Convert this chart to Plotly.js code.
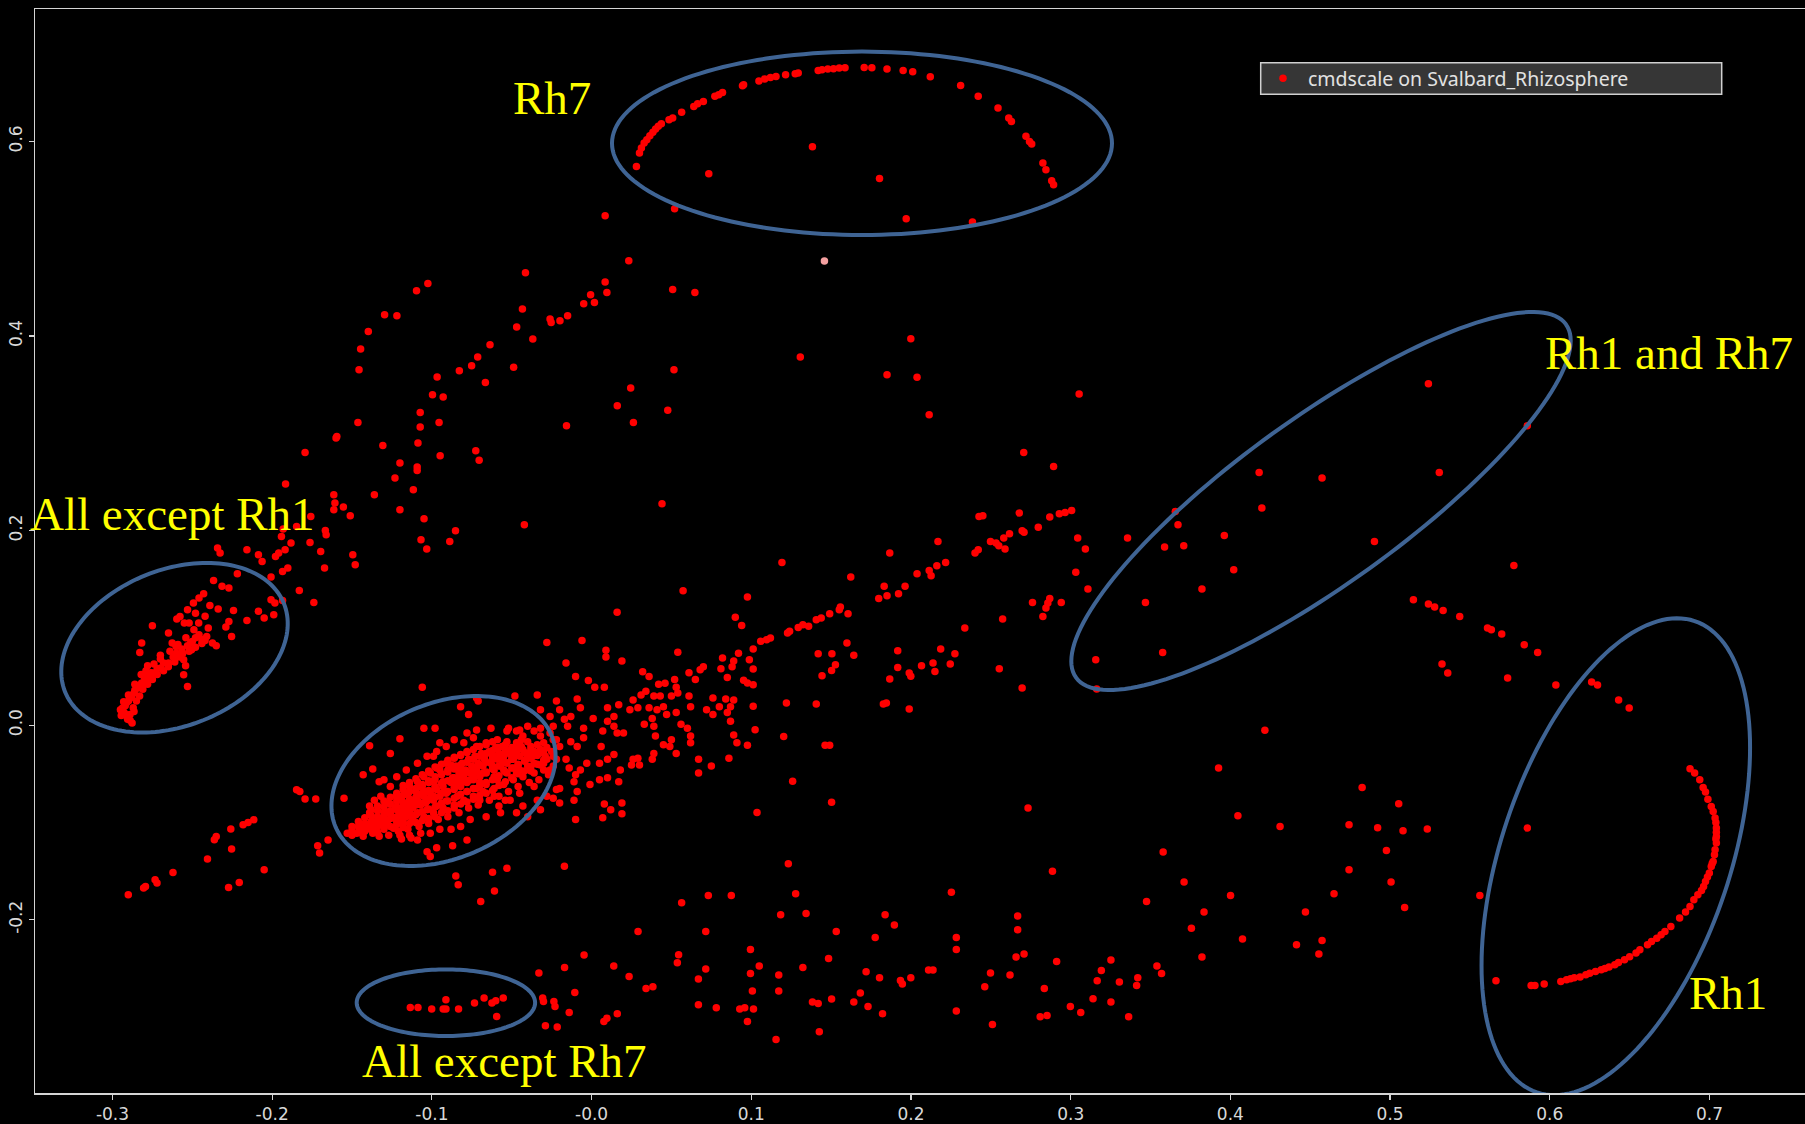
<!DOCTYPE html>
<html><head><meta charset="utf-8">
<script src="https://cdn.plot.ly/plotly-3.0.1.min.js"></script>
<style>html,body{margin:0;padding:0;background:#000;}#chart{width:1805px;height:1124px;}</style>
</head><body><div id="chart"></div>
<script>
const seriesName = 'cmdscale on Svalbard_Rhizosphere';
const xTickVals = [-0.3,-0.2,-0.1,0,0.1,0.2,0.3,0.4,0.5,0.6,0.7];
const xTickText = ['-0.3','-0.2','-0.1','-0.0','0.1','0.2','0.3','0.4','0.5','0.6','0.7'];
const yTickVals = [-0.2,0,0.2,0.4,0.6];
const yTickText = ['-0.2','0.0','0.2','0.4','0.6'];
const groupLabels = ['Rh7','Rh1 and Rh7','All except Rh1','All except Rh7','Rh1'];

// ---- point data (x, y) ----
const rh7Arc = [[0.0281,0.5743],[0.0300,0.5881],[0.0312,0.5932],[0.0329,0.5983],[0.0346,0.6017],[0.0365,0.6059],[0.0384,0.6093],[0.0401,0.6127],[0.0418,0.6155],[0.0437,0.6182],[0.0485,0.6223],[0.0508,0.6240],[0.0564,0.6299],[0.0640,0.6360],[0.0664,0.6388],[0.0700,0.6411],[0.0772,0.6463],[0.0796,0.6480],[0.0820,0.6504],[0.0945,0.6573],[0.0952,0.6583],[0.1048,0.6621],[0.1084,0.6641],[0.1120,0.6658],[0.1155,0.6668],[0.1215,0.6686],[0.1275,0.6696],[0.1294,0.6703],[0.1419,0.6730],[0.1443,0.6737],[0.1479,0.6744],[0.1515,0.6747],[0.1551,0.6754],[0.1587,0.6758],[0.1707,0.6761],[0.1755,0.6758],[0.1850,0.6744],[0.1951,0.6730],[0.2011,0.6716],[0.2121,0.6665],[0.2311,0.6576],[0.2421,0.6463],[0.2545,0.6343],[0.2612,0.6240],[0.2629,0.6206],[0.2720,0.6052],[0.2742,0.6000],[0.2756,0.5973],[0.2826,0.5778],[0.2845,0.5709],[0.2881,0.5596],[0.2893,0.5555]];

const topPoints = [[0.1383,0.5946],[0.0734,0.5668],[0.1803,0.5620],[0.1970,0.5206],[0.0520,0.5308],[0.0085,0.5236],[0.2385,0.5172],[0.0233,0.4774],[0.0085,0.4555],[0.0096,0.4448],[0.0508,0.4479],[0.0647,0.4448],[0.1999,0.3972],[0.1307,0.3784],
[-0.1446,0.3866],[-0.1398,0.4047],[-0.1296,0.4219],[-0.1219,0.4209],[-0.1096,0.4466],[-0.1025,0.4541],[-0.0414,0.4651],[-0.0433,0.4277],[-0.0469,0.4092],[-0.0368,0.3969],[-0.0636,0.3911],[-0.0713,0.3784],[-0.0751,0.3695],[-0.0488,0.3680],[-0.0260,0.4175],[-0.0253,0.4140],[-0.0198,0.4157],[-0.0150,0.4209],[-0.0049,0.4332],[-0.0006,0.4424],[0.0018,0.4345]];

const highlighted = [[0.1458,0.4771]];

const leftBand = [[-0.1456,0.3654],[-0.0967,0.3579],[-0.0828,0.3643],[-0.0665,0.3523],[-0.0996,0.3397],[-0.0929,0.3373],[-0.1073,0.3215],[-0.0955,0.3112],[-0.1073,0.3065],[-0.1463,0.3112],[-0.0157,0.3078],[-0.1595,0.2968],[-0.1600,0.2952],[-0.1794,0.2804],[-0.1307,0.2876],[-0.1087,0.2900],[-0.0725,0.2821],[-0.0704,0.2722],[-0.0948,0.2770],[-0.1200,0.2695],[-0.1092,0.2654],[-0.1092,0.2619],[-0.1231,0.2541],[-0.1916,0.2479],[-0.1116,0.2420],[-0.1614,0.2369],[-0.1360,0.2369],[-0.1607,0.2284],[-0.1554,0.2243],[-0.1614,0.2215],[-0.1511,0.2153],[-0.1200,0.2215],[-0.1049,0.2122],[-0.1758,0.2146],[-0.0421,0.2061],[-0.0852,0.1999],[-0.1068,0.1906],[-0.0888,0.1889],[-0.1032,0.1811],[-0.1667,0.2002],[-0.1662,0.1958],[-0.1763,0.1879],[-0.1847,0.2043],[-0.1931,0.2016],[-0.1942,0.1940],[-0.1882,0.1873],[-0.1919,0.1804],[-0.1959,0.1770],[-0.1696,0.1786],[-0.1495,0.1752],[-0.1480,0.1650],[-0.1672,0.1616],[-0.2342,0.1821],[-0.2326,0.1770],[-0.2158,0.1804],[-0.2086,0.1752],[-0.2063,0.1683],[-0.1979,0.1735],[-0.2218,0.1557],[-0.1935,0.1581],[-0.1902,0.1616],[-0.2007,0.1523],[-0.1830,0.1385],[-0.1739,0.1262],[-0.2007,0.1290],[-0.1983,0.1256],[-0.1935,0.1283],[-0.2086,0.1170],[-0.2050,0.1102],[-0.1990,0.1136],[-0.2158,0.1077],[-0.2242,0.1180],[-0.2338,0.1194],[-0.2271,0.1067],[-0.2290,0.1009],[-0.2254,0.0913],[-0.2367,0.1488],[-0.2314,0.1427],[-0.2271,0.1410],[-0.2429,0.1351],[-0.2458,0.1307],[-0.2493,0.1256],[-0.2530,0.1187],[-0.2577,0.1118],[-0.2597,0.1091],[-0.2649,0.0948],[-0.2750,0.1023],[-0.2817,0.0845],[-0.2829,0.0748],[-0.2626,0.0845],[-0.2602,0.0810],[-0.2566,0.0783],[-0.2530,0.0817],[-0.2458,0.0930],[-0.2410,0.0913],[-0.2374,0.0845],[-0.2350,0.0817],[-0.2505,0.0776],[-0.2554,0.0673],[-0.2649,0.0639],[-0.2698,0.0588],[-0.2745,0.0536],[-0.2769,0.0502],[-0.2793,0.0468],[-0.2817,0.0434],[-0.2841,0.0382],[-0.2865,0.0331],[-0.2889,0.0280],[-0.2913,0.0228],[-0.2937,0.0177],[-0.2925,0.0125],[-0.2901,0.0074],[-0.2877,0.0023],[-0.2865,0.0142],[-0.2542,0.0612],[-0.2554,0.0519],[-0.2530,0.0399],
[-0.2620,0.0700],[-0.2680,0.0640],[-0.2720,0.0580],[-0.2760,0.0540],[-0.2800,0.0490],[-0.2830,0.0410],[-0.2860,0.0360],[-0.2880,0.0300],[-0.2900,0.0250],[-0.2920,0.0200],[-0.2935,0.0150],[-0.2915,0.0100],[-0.2890,0.0050],[-0.2600,0.0740],[-0.2500,0.0860],[-0.2440,0.0880],[-0.2400,0.1000],[-0.2480,0.1150],[-0.2550,0.1050],[-0.2700,0.0680],[-0.2780,0.0610]];

const leftArcDense = [[-0.2905,0.0060],[-0.2890,0.0110],[-0.2870,0.0180],[-0.2850,0.0250],[-0.2830,0.0300],[-0.2810,0.0370],[-0.2780,0.0420],[-0.2750,0.0470],[-0.2720,0.0520],[-0.2680,0.0560],[-0.2650,0.0600],[-0.2610,0.0650],[-0.2580,0.0700],[-0.2560,0.0740],[-0.2520,0.0760],[-0.2480,0.0800],[-0.2440,0.0840],[-0.2420,0.0870],[-0.2480,0.0900],[-0.2510,0.0850],[-0.2945,0.0100],[-0.2950,0.0160],[-0.2930,0.0240],[-0.2900,0.0310],[-0.2860,0.0420],[-0.2820,0.0520],[-0.2790,0.0560],[-0.2740,0.0630],[-0.2700,0.0720],[-0.2640,0.0760],[-0.2590,0.0830],[-0.2540,0.0900],[-0.2490,0.0980],[-0.2460,0.1050],[-0.2420,0.1120],[-0.2390,0.1230],[-0.2520,0.1050]];

const midBand = [[0.0516,0.3654],[0.1850,0.3602],[0.2038,0.3575],[0.3053,0.3404],[0.0245,0.3465],[0.0161,0.3284],[0.0477,0.3236],[0.0262,0.3112],[0.2114,0.3191],[0.0441,0.2276],[0.2706,0.2804],[0.2893,0.2660],[0.1192,0.1673],[0.0573,0.1382],[0.0976,0.1317],[0.1623,0.1523],[0.1867,0.1770],[0.2169,0.1889],[0.2426,0.2146],[0.2450,0.2153],[0.2678,0.2180],[0.2869,0.2139],[0.2929,0.2173],[0.2965,0.2187],[0.3006,0.2208],[0.3044,0.1924],[0.3092,0.1811],[0.3032,0.1571],[0.3108,0.1400],[0.2696,0.1999],[0.2708,0.1982],[0.2797,0.2034],[0.2617,0.1968],[0.2581,0.1924],[0.2498,0.1889],[0.2533,0.1872],[0.2550,0.1845],[0.2589,0.1811],[0.2421,0.1804],[0.2401,0.1770],[0.2217,0.1673],[0.2162,0.1640],[0.2114,0.1591],[0.2126,0.1537],[0.2038,0.1557],[0.1963,0.1427],[0.1922,0.1351],[0.1832,0.1427],[0.1850,0.1331],[0.1798,0.1303],[0.1606,0.1146],[0.1558,0.1215],[0.1551,0.1187],[0.1491,0.1146],[0.1438,0.1101],[0.1407,0.1084],[0.1359,0.1016],[0.1323,0.1033],[0.1294,0.1005],[0.1240,0.0965],[0.1227,0.0948],[0.1120,0.0896],[0.1096,0.0879],[0.1059,0.0862],[0.1012,0.0783],[0.0940,0.1026],[0.2761,0.1262],[0.2869,0.1303],[0.2857,0.1256],[0.2845,0.1204],[0.2826,0.1118],[0.2941,0.1262],[0.2574,0.1091],[0.2337,0.0999],[0.3468,0.1262],[0.3655,0.2197],[0.3672,0.2061],[0.3588,0.1831],[0.3708,0.1845],[0.3356,0.1924],[0.3157,0.0673],[0.3576,0.0748],[0.3163,0.0372],[0.2696,0.0382],[0.2553,0.0581],[0.2275,0.0735],[0.2186,0.0783],[0.1917,0.0765],[0.1917,0.0594],[0.2066,0.0612],[0.2138,0.0639],[0.2150,0.0553],[0.2246,0.0629],[0.1989,0.0536],[0.1999,0.0502],[0.1867,0.0474],[0.1599,0.0845],[0.1419,0.0735],[0.1505,0.0735],[0.1642,0.0718],[0.1527,0.0622],[0.1503,0.0563],[0.1443,0.0509],[0.1827,0.0218],[0.1846,0.0228],[0.1989,0.0166],[0.1407,0.0218],[0.1220,0.0228],[0.1203,-0.0115],[0.1462,-0.0207],[0.1491,-0.0207],[0.1024,-0.0046],[0.0976,-0.0207],[0.1012,0.0194],[0.1012,0.0416],[0.0988,0.0673],[0.1012,0.0577],[0.0952,0.0461],[0.0976,0.0434]];

const rh1Rh7Points = [[0.5240,0.3510],[0.5859,0.3078],[0.4180,0.2598],[0.4574,0.2541],[0.5308,0.2598],[0.4197,0.2232],[0.3962,0.1951],[0.4902,0.1889],[0.4021,0.1598],[0.3822,0.1400],[0.5775,0.1642],[0.5146,0.1290],[0.5240,0.1246],[0.5279,0.1215],[0.5332,0.1180],[0.5436,0.1118],[0.5610,0.0999],[0.5634,0.0981],[0.5699,0.0937],[0.5840,0.0827],[0.5924,0.0748],[0.5325,0.0629],[0.5361,0.0536],[0.5736,0.0485],[0.6038,0.0413],[0.6262,0.0444],[0.6299,0.0413],[0.6431,0.0259],[0.6497,0.0177],[0.4216,-0.0053]];

const coreCluster = [[0.016,0.116],[-0.028,0.085],[-0.006,0.087],[0.009,0.077],[0.009,0.070],[-0.016,0.064],[0.019,0.066],[0.054,0.075],[0.090,0.111],[0.092,0.074],[0.082,0.069],[0.081,0.058],[0.089,0.066],[0.088,0.060],[0.032,0.055],[0.036,0.050],[0.061,0.054],[0.068,0.057],[0.070,0.060],[0.065,0.047],[0.085,0.049],[-0.010,0.050],[-0.002,0.046],[0.002,0.039],[0.008,0.039],[0.042,0.042],[0.046,0.043],[0.052,0.047],[0.053,0.039],[0.054,0.033],[-0.106,0.039],[-0.048,0.030],[-0.034,0.031],[-0.071,0.025],[-0.082,0.019],[-0.072,0.028],[-0.022,0.025],[-0.009,0.027],[-0.032,0.016],[-0.020,0.016],[-0.007,0.018],[0.010,0.018],[0.017,0.021],[0.026,0.026],[0.031,0.031],[0.034,0.035],[0.039,0.030],[0.043,0.030],[0.050,0.030],[0.061,0.030],[0.062,0.019],[0.076,0.028],[0.084,0.027],[0.087,0.019],[0.072,0.016],[0.080,0.019],[0.089,0.026],[-0.077,0.011],[-0.105,-0.003],[-0.098,-0.003],[-0.078,-0.008],[-0.072,-0.005],[-0.063,-0.003],[-0.052,-0.003],[-0.047,-0.006],[-0.043,-0.011],[-0.044,-0.015],[-0.026,0.009],[-0.017,0.006],[-0.013,0.009],[0.001,0.007],[0.010,0.004],[0.014,0.009],[-0.015,-0.001],[-0.005,-0.003],[0.007,-0.006],[0.014,-0.001],[0.016,-0.008],[0.020,-0.008],[0.024,0.016],[0.029,0.018],[0.036,0.018],[0.041,0.016],[0.045,0.019],[0.038,0.007],[0.047,0.011],[0.053,0.013],[0.056,0.001],[0.060,-0.003],[0.062,-0.011],[0.039,-0.001],[0.033,0.001],[0.040,-0.011],[0.050,-0.015],[0.076,0.011],[0.085,0.013],[0.087,0.004],[0.089,-0.010],[0.091,-0.018],[0.062,-0.018],[0.045,-0.020],[0.049,-0.022],[0.053,-0.029],[0.039,-0.029],[0.038,-0.035],[0.067,-0.035],[0.075,-0.042],[0.067,-0.049],[0.086,-0.034],[0.029,-0.034],[0.025,-0.041],[0.030,-0.041],[0.026,-0.035],[0.014,-0.030],[0.010,-0.035],[0.005,-0.039],[-0.003,-0.039],[-0.007,-0.046],[-0.010,-0.051],[-0.014,-0.044],[-0.016,-0.035],[-0.009,-0.022],[-0.005,-0.013],[-0.013,-0.017],[-0.020,-0.022],[-0.024,-0.015],[0.006,-0.022],[0.018,-0.046],[0.017,-0.058],[0.010,-0.054],[0.005,-0.056],[-0.001,-0.061],[-0.011,-0.058],[-0.009,-0.068],[-0.020,-0.065],[-0.024,-0.075],[-0.020,-0.080],[-0.011,-0.077],[-0.010,-0.097],[0.008,-0.081],[0.012,-0.087],[0.019,-0.080],[0.019,-0.091],[0.007,-0.095],[-0.032,-0.087],[-0.040,-0.094],[-0.054,-0.077],[-0.058,-0.083],[-0.139,-0.021],[-0.120,-0.014],[-0.126,-0.029],[-0.143,-0.051],[-0.137,-0.045],[-0.133,-0.058],[-0.130,-0.056],[-0.155,-0.075],[-0.136,-0.077],[-0.165,-0.118],[-0.119,-0.117],[-0.113,-0.116],[-0.109,-0.118],[-0.097,-0.126],[-0.103,-0.130],[-0.101,-0.135],[-0.087,-0.124],[-0.078,-0.118],[-0.085,-0.155],[-0.062,-0.151],[-0.053,-0.147],[-0.017,-0.145],
[-0.153,-0.111],[-0.150,-0.113],[-0.147,-0.111],[-0.145,-0.107],[-0.143,-0.104],[-0.141,-0.107],[-0.139,-0.102],[-0.137,-0.099],[-0.134,-0.104],[-0.132,-0.097],[-0.130,-0.094],[-0.128,-0.099],[-0.126,-0.090],[-0.124,-0.095],[-0.122,-0.087],[-0.120,-0.092],[-0.118,-0.083],[-0.116,-0.090],[-0.114,-0.080],[-0.112,-0.085],[-0.109,-0.077],[-0.107,-0.082],[-0.105,-0.073],[-0.103,-0.078],[-0.101,-0.070],[-0.099,-0.077],[-0.097,-0.066],[-0.095,-0.073],[-0.093,-0.063],[-0.091,-0.070],[-0.088,-0.059],[-0.086,-0.066],[-0.084,-0.056],[-0.082,-0.063],[-0.080,-0.053],[-0.078,-0.059],[-0.076,-0.049],[-0.074,-0.056],[-0.072,-0.046],[-0.070,-0.053],[-0.068,-0.042],[-0.066,-0.049],[-0.063,-0.039],[-0.061,-0.046],[-0.059,-0.035],[-0.057,-0.042],[-0.055,-0.032],[-0.053,-0.039],[-0.051,-0.029],[-0.049,-0.035],[-0.047,-0.027],[-0.045,-0.032],[-0.043,-0.025],[-0.040,-0.029],[-0.038,-0.022],[-0.036,-0.027],[-0.034,-0.020],[-0.032,-0.025],[-0.030,-0.018],[-0.028,-0.023],
[-0.139,-0.090],[-0.134,-0.083],[-0.128,-0.080],[-0.122,-0.073],[-0.118,-0.066],[-0.114,-0.063],[-0.109,-0.058],[-0.105,-0.053],[-0.101,-0.049],[-0.097,-0.044],[-0.091,-0.039],[-0.086,-0.034],[-0.082,-0.030],[-0.078,-0.027],[-0.072,-0.022],[-0.066,-0.018],[-0.059,-0.015],[-0.053,-0.017],[-0.047,-0.018],[-0.040,-0.017],[-0.032,-0.011],[-0.119,-0.077],[-0.115,-0.071],[-0.110,-0.068],[-0.106,-0.063],[-0.102,-0.059],[-0.098,-0.056],[-0.094,-0.051],[-0.090,-0.046],[-0.085,-0.042],[-0.081,-0.039],[-0.077,-0.035],[-0.073,-0.032],[-0.069,-0.029],[-0.064,-0.027],[-0.060,-0.023],[-0.056,-0.022],[-0.050,-0.023],[-0.044,-0.022],
[-0.143,-0.114],[-0.137,-0.111],[-0.130,-0.107],[-0.124,-0.106],[-0.118,-0.101],[-0.112,-0.097],[-0.105,-0.094],[-0.099,-0.090],[-0.093,-0.085],[-0.086,-0.082],[-0.080,-0.077],[-0.074,-0.073],[-0.068,-0.068],[-0.061,-0.065],[-0.055,-0.061],[-0.049,-0.056],[-0.043,-0.053],[-0.036,-0.049],[-0.030,-0.046],[-0.024,-0.042],[-0.133,-0.114],[-0.127,-0.113],[-0.121,-0.109],[-0.115,-0.107],[-0.108,-0.104],[-0.102,-0.101],[-0.096,-0.097],[-0.090,-0.094],[-0.083,-0.090],[-0.077,-0.085],[-0.071,-0.082],[-0.064,-0.077],[-0.058,-0.073],[-0.052,-0.068],[-0.046,-0.063],[-0.039,-0.059],[-0.033,-0.056],[-0.027,-0.051],
[-0.128,-0.090],[-0.123,-0.085],[-0.117,-0.080],[-0.113,-0.077],[-0.107,-0.071],[-0.103,-0.068],[-0.098,-0.065],[-0.093,-0.058],[-0.087,-0.054],[-0.083,-0.049],[-0.079,-0.046],[-0.075,-0.042],[-0.071,-0.039],[-0.067,-0.035],[-0.062,-0.032],[-0.058,-0.029],[-0.054,-0.025],[-0.050,-0.032],[-0.046,-0.041],[-0.041,-0.035],[-0.037,-0.032],[-0.033,-0.029],[-0.029,-0.032],[-0.025,-0.027],[-0.022,-0.035],[-0.040,-0.042],[-0.047,-0.049],[-0.053,-0.049],[-0.059,-0.056],[-0.066,-0.061],[-0.072,-0.065],[-0.078,-0.068],[-0.084,-0.073],[-0.091,-0.078],[-0.097,-0.083],[-0.103,-0.087],[-0.109,-0.090],[-0.116,-0.094],[-0.122,-0.099],[-0.128,-0.102],[-0.136,-0.106],[-0.107,-0.063],[-0.101,-0.058],[-0.095,-0.046],[-0.088,-0.041],[-0.082,-0.044],[-0.076,-0.056],[-0.070,-0.059],[-0.061,-0.053],[-0.055,-0.046],[-0.049,-0.044],[-0.036,-0.039],[-0.032,-0.041],[-0.114,-0.089],[-0.104,-0.080],[-0.099,-0.073],[-0.092,-0.068],[-0.085,-0.061],[-0.080,-0.058],[-0.074,-0.049],[-0.068,-0.049],[-0.062,-0.042],[-0.056,-0.037],[-0.045,-0.046],[-0.038,-0.047],[-0.030,-0.039],[-0.024,-0.032],
[-0.026,-0.008],[-0.024,-0.001],[-0.022,-0.015],[-0.028,-0.035],[-0.026,-0.046],[-0.036,-0.063],[-0.045,-0.070],[-0.051,-0.077],[-0.061,-0.073],[-0.070,-0.077],[-0.043,-0.083],[-0.034,-0.077],[-0.028,-0.073],[-0.022,-0.066],[-0.047,-0.090],[-0.057,-0.090],[-0.066,-0.094],[-0.076,-0.097],[-0.082,-0.104],[-0.088,-0.107],[-0.095,-0.107],[-0.101,-0.111],[-0.107,-0.111],[-0.114,-0.113],[-0.120,-0.113],[-0.091,-0.022],[-0.097,-0.027],[-0.103,-0.032],[-0.109,-0.039],[-0.116,-0.046],[-0.122,-0.053],[-0.126,-0.063],[-0.132,-0.073],[-0.139,-0.083],[-0.086,-0.015],[-0.095,-0.018],[-0.099,-0.032],[-0.080,-0.018],[-0.074,-0.013],[-0.059,-0.032],[-0.053,-0.006],[-0.045,-0.005],[-0.040,-0.001],[-0.036,-0.006],[-0.032,-0.003]];

const coreDense = [[-0.150,-0.108],[-0.150,-0.104],[-0.146,-0.110],[-0.146,-0.104],[-0.146,-0.099],[-0.142,-0.109],[-0.142,-0.101],[-0.142,-0.095],[-0.138,-0.107],[-0.138,-0.099],[-0.138,-0.093],[-0.138,-0.087],[-0.134,-0.110],[-0.134,-0.101],[-0.134,-0.094],[-0.134,-0.088],[-0.130,-0.103],[-0.130,-0.097],[-0.130,-0.090],[-0.130,-0.084],[-0.130,-0.078],[-0.126,-0.104],[-0.126,-0.096],[-0.126,-0.088],[-0.126,-0.081],[-0.126,-0.074],[-0.122,-0.102],[-0.122,-0.094],[-0.122,-0.084],[-0.122,-0.078],[-0.122,-0.070],[-0.118,-0.105],[-0.118,-0.097],[-0.118,-0.088],[-0.118,-0.080],[-0.118,-0.072],[-0.118,-0.062],[-0.114,-0.101],[-0.114,-0.093],[-0.114,-0.085],[-0.114,-0.076],[-0.114,-0.068],[-0.114,-0.059],[-0.110,-0.100],[-0.110,-0.092],[-0.110,-0.082],[-0.110,-0.074],[-0.110,-0.065],[-0.110,-0.055],[-0.106,-0.098],[-0.106,-0.089],[-0.106,-0.080],[-0.106,-0.070],[-0.106,-0.061],[-0.106,-0.051],[-0.102,-0.096],[-0.102,-0.086],[-0.102,-0.076],[-0.102,-0.067],[-0.102,-0.057],[-0.102,-0.047],[-0.098,-0.094],[-0.098,-0.084],[-0.098,-0.074],[-0.098,-0.063],[-0.098,-0.053],[-0.098,-0.043],[-0.094,-0.090],[-0.094,-0.080],[-0.094,-0.070],[-0.094,-0.060],[-0.094,-0.050],[-0.094,-0.040],[-0.090,-0.088],[-0.090,-0.078],[-0.090,-0.068],[-0.090,-0.057],[-0.090,-0.048],[-0.090,-0.036],[-0.086,-0.085],[-0.086,-0.075],[-0.086,-0.064],[-0.086,-0.054],[-0.086,-0.045],[-0.086,-0.033],[-0.082,-0.081],[-0.082,-0.071],[-0.082,-0.060],[-0.082,-0.051],[-0.082,-0.041],[-0.082,-0.031],[-0.078,-0.079],[-0.078,-0.068],[-0.078,-0.057],[-0.078,-0.048],[-0.078,-0.038],[-0.078,-0.028],[-0.074,-0.076],[-0.074,-0.065],[-0.074,-0.054],[-0.074,-0.044],[-0.074,-0.035],[-0.074,-0.025],[-0.070,-0.072],[-0.070,-0.062],[-0.070,-0.051],[-0.070,-0.041],[-0.070,-0.032],[-0.070,-0.022],[-0.066,-0.070],[-0.066,-0.059],[-0.066,-0.048],[-0.066,-0.038],[-0.066,-0.029],[-0.066,-0.020],[-0.062,-0.067],[-0.062,-0.056],[-0.062,-0.045],[-0.062,-0.035],[-0.062,-0.026],[-0.062,-0.017],[-0.058,-0.062],[-0.058,-0.052],[-0.058,-0.042],[-0.058,-0.032],[-0.058,-0.023],[-0.054,-0.058],[-0.054,-0.048],[-0.054,-0.038],[-0.054,-0.029],[-0.054,-0.020],[-0.050,-0.054],[-0.050,-0.044],[-0.050,-0.035],[-0.050,-0.026],[-0.046,-0.050],[-0.046,-0.040],[-0.046,-0.031],[-0.046,-0.022],[-0.042,-0.047],[-0.042,-0.037],[-0.042,-0.028],[-0.038,-0.043],[-0.038,-0.034],[-0.038,-0.025],[-0.034,-0.040],[-0.034,-0.031],[-0.030,-0.036],[-0.030,-0.027]];

const lowerLeft = [[-0.1847,-0.0663],[-0.1827,-0.0680],[-0.1794,-0.0759],[-0.1727,-0.0759],[-0.1715,-0.1238],[-0.1703,-0.1314],[-0.2115,-0.0971],[-0.2151,-0.0999],[-0.2182,-0.1023],[-0.2259,-0.1067],[-0.2350,-0.1143],[-0.2362,-0.1177],[-0.2254,-0.1272],[-0.2405,-0.1375],[-0.2621,-0.1513],[-0.2733,-0.1588],[-0.2721,-0.1622],[-0.2793,-0.1657],[-0.2805,-0.1673],[-0.2901,-0.1742],[-0.2050,-0.1485],[-0.2206,-0.1616],[-0.2273,-0.1667],[-0.0835,-0.1639],[-0.0608,-0.1704],[-0.0694,-0.1811],
[-0.1135,-0.2900],[-0.1087,-0.2900],[-0.1001,-0.2917],[-0.0929,-0.2917],[-0.0912,-0.2917],[-0.0912,-0.2821],[-0.0833,-0.2917],[-0.0733,-0.2855],[-0.0673,-0.2804],[-0.0624,-0.2855],[-0.0600,-0.2832],[-0.0553,-0.2804],[-0.0594,-0.2993],
[-0.0330,-0.2547],[-0.0169,-0.2489],[-0.0047,-0.2362],[-0.0306,-0.2804],[-0.0301,-0.2839],[-0.0236,-0.2839],[-0.0229,-0.2890],[-0.0105,-0.2746],[-0.0140,-0.2952],[-0.0289,-0.3088],[-0.0215,-0.3102]];

const lowerMid = [[0.1036,-0.0896],[0.1259,-0.0577],[0.1503,-0.0793],[0.2733,-0.0851],[0.1232,-0.1423],[0.2886,-0.1502],[0.3579,-0.1303],[0.3710,-0.1612],[0.3756,-0.2088],[0.0731,-0.1749],[0.0875,-0.1749],[0.0564,-0.1824],[0.1278,-0.1732],[0.2253,-0.1718],[0.1184,-0.1948],[0.1343,-0.1934],[0.1838,-0.1948],[0.1896,-0.2053],[0.0291,-0.2119],[0.0715,-0.2119],[0.1532,-0.2119],[0.1776,-0.2181],[0.2668,-0.1961],[0.2668,-0.2102],[0.2284,-0.2181],[0.2284,-0.2304],[0.3475,-0.1811],[0.0545,-0.2359],[0.0537,-0.2441],[0.0139,-0.2475],[0.0235,-0.2582],[0.0715,-0.2506],[0.0669,-0.2608],[0.0995,-0.2304],[0.0995,-0.2551],[0.1050,-0.2475],[0.1172,-0.2567],[0.1323,-0.2489],[0.1484,-0.2397],[0.1719,-0.2533],[0.1803,-0.2595],[0.1934,-0.2623],[0.1946,-0.2660],[0.1999,-0.2595],[0.2110,-0.2516],[0.2138,-0.2516],[0.2708,-0.2352],[0.2658,-0.2382],[0.2912,-0.2428],[0.2498,-0.2547],[0.2620,-0.2567],[0.2462,-0.2688],[0.2835,-0.2705],[0.3192,-0.2520],[0.3252,-0.2413],[0.3166,-0.2626],[0.3305,-0.2639],[0.3420,-0.2595],[0.3413,-0.2674],[0.3540,-0.2475],[0.3569,-0.2551],[0.0341,-0.2705],[0.0384,-0.2688],[0.1007,-0.2732],[0.1172,-0.2732],[0.1683,-0.2752],[0.1642,-0.2845],[0.1731,-0.2890],[0.1383,-0.2845],[0.1419,-0.2859],[0.1503,-0.2814],[0.0669,-0.2873],[0.0781,-0.2903],[0.0928,-0.2917],[0.0959,-0.2903],[0.1014,-0.2917],[0.0976,-0.3044],[0.1822,-0.2965],[0.2284,-0.2937],[0.2998,-0.2890],[0.3063,-0.2952],[0.3140,-0.2811],[0.3252,-0.2845],[0.3363,-0.2996],[0.2809,-0.2996],[0.2852,-0.2983],[0.2510,-0.3075],[0.1426,-0.3150],[0.1155,-0.3229],[0.0096,-0.3013],[0.0077,-0.3044],[0.0161,-0.2965]];

const rh1Arc = [[0.6878,-0.0447],[0.6907,-0.0491],[0.6939,-0.0560],[0.6960,-0.0640],[0.6975,-0.0687],[0.6990,-0.0760],[0.7011,-0.0835],[0.7023,-0.0886],[0.7035,-0.0954],[0.7040,-0.1000],[0.7043,-0.1057],[0.7043,-0.1100],[0.7043,-0.1143],[0.7040,-0.1170],[0.7043,-0.1211],[0.7035,-0.1280],[0.7031,-0.1331],[0.7023,-0.1400],[0.7017,-0.1420],[0.7011,-0.1451],[0.6999,-0.1519],[0.6987,-0.1560],[0.6975,-0.1605],[0.6963,-0.1657],[0.6950,-0.1700],[0.6927,-0.1742],[0.6902,-0.1793],[0.6878,-0.1862],[0.6850,-0.1920],[0.6813,-0.1982],[0.6758,-0.2068],[0.6721,-0.2119],[0.6697,-0.2153],[0.6670,-0.2190],[0.6637,-0.2222],[0.6612,-0.2256],[0.6564,-0.2307],[0.6540,-0.2341],[0.6500,-0.2380],[0.6468,-0.2410],[0.6430,-0.2440],[0.6407,-0.2461],[0.6371,-0.2485],[0.6345,-0.2500],[0.6322,-0.2513],[0.6286,-0.2530],[0.6250,-0.2550],[0.6226,-0.2564],[0.6190,-0.2588],[0.6153,-0.2595],[0.6130,-0.2605],[0.6105,-0.2616],[0.6069,-0.2633],[0.5965,-0.2660],[0.5907,-0.2674],[0.5883,-0.2674]];

const lowerRight = [[0.3926,-0.0440],[0.4825,-0.0639],[0.5054,-0.0807],[0.4047,-0.0930],[0.4311,-0.1040],[0.4743,-0.1023],[0.4922,-0.1053],[0.5081,-0.1084],[0.5233,-0.1067],[0.4977,-0.1287],[0.4743,-0.1485],[0.5006,-0.1612],[0.4001,-0.1749],[0.4649,-0.1732],[0.3835,-0.1920],[0.4470,-0.1920],[0.5091,-0.1873],[0.4076,-0.2197],[0.4414,-0.2256],[0.4574,-0.2212],[0.4554,-0.2352],[0.3822,-0.2382],[0.5562,-0.1749],[0.5859,-0.1057],[0.5663,-0.2626]];

// ---- layout geometry ----
const W = 1805, H = 1124;
const M = {l: 35, r: 0, t: 9, b: 31};
const xRange = [-0.3485, 0.7598];
const yRange = [-0.3780, 0.7361];
const pw = W - M.l - M.r, ph = H - M.t - M.b;
const pxX = px => xRange[0] + (px - M.l) / pw * (xRange[1] - xRange[0]);
const pxY = py => yRange[0] + (H - M.b - py) / ph * (yRange[1] - yRange[0]);
const paperX = px => (px - M.l) / pw;
const paperY = py => (H - M.b - py) / ph;

// ellipses drawn around groups (pixel geometry of the picture)
const ellipses = [
  {cx: 862, cy: 143.3, a: 250, b: 91.7, deg: 0},
  {cx: 1321, cy: 501, a: 302, b: 83, deg: 35.8},
  {cx: 174.5, cy: 647.7, a: 118, b: 78, deg: 22},
  {cx: 443.5, cy: 781, a: 117.3, b: 77.6, deg: 23.2},
  {cx: 445.9, cy: 1002.7, a: 89.2, b: 33.3, deg: 0},
  {cx: 1615.8, cy: 856.7, a: 248.5, b: 114.6, deg: 71.5}
];
function ellipsePath(e) {
  const ang = e.deg * Math.PI / 180;
  let s = '';
  const n = 160;
  for (let i = 0; i <= n; i++) {
    const t = i / n * 2 * Math.PI;
    const px = e.cx + e.a * Math.cos(t) * Math.cos(ang) - e.b * Math.sin(t) * Math.sin(ang);
    const py = e.cy - (e.a * Math.cos(t) * Math.sin(ang) + e.b * Math.sin(t) * Math.cos(ang));
    s += (i ? 'L' : 'M') + pxX(px).toFixed(5) + ',' + pxY(py).toFixed(5);
  }
  return s + 'Z';
}

const labelPos = [
  {px: 511, py: 98},
  {px: 1543, py: 353},
  {px: 28, py: 514},
  {px: 360, py: 1061},
  {px: 1687, py: 993}
];

// legend frame (pixel box of the picture)
const legendBox = {x0: 1260.7, x1: 1721.7, y0: 62.7, y1: 94.3};

const allPts = [].concat(rh7Arc, topPoints, leftBand, leftArcDense, midBand, rh1Rh7Points, coreCluster, coreDense, lowerLeft, lowerMid, rh1Arc, lowerRight);

const traces = [
  {
    type: 'scatter', mode: 'markers', name: seriesName,
    x: allPts.map(p => p[0]), y: allPts.map(p => p[1]),
    marker: {color: '#ff0000', size: 7.5, line: {width: 0}},
    showlegend: true
  },
  {
    type: 'scatter', mode: 'markers', name: 'highlight',
    x: highlighted.map(p => p[0]), y: highlighted.map(p => p[1]),
    marker: {color: '#f4a0a0', size: 7.5, line: {width: 0}},
    showlegend: false
  }
];

const axisCommon = {
  showgrid: false, zeroline: false, showline: true,
  linecolor: '#d4d4d4', linewidth: 1.5,
  ticks: 'outside', ticklen: 5, tickwidth: 1.2, tickcolor: '#d4d4d4',
  tickfont: {family: 'DejaVu Sans', size: 17, color: '#d8d8d8'},
  fixedrange: true
};

const ellipseShapes = ellipses.map(e => ({
  type: 'path', xref: 'x', yref: 'y', path: ellipsePath(e),
  line: {color: '#3f6494', width: 4}, layer: 'above'
}));
const legendFrame = {
  type: 'rect', xref: 'paper', yref: 'paper',
  x0: paperX(legendBox.x0), x1: paperX(legendBox.x1),
  y0: paperY(legendBox.y1), y1: paperY(legendBox.y0),
  fillcolor: '#363636', line: {color: '#d0d0d0', width: 1.5}, layer: 'above'
};

const layout = {
  width: W, height: H,
  margin: M,
  paper_bgcolor: '#000000', plot_bgcolor: '#000000',
  xaxis: Object.assign({}, axisCommon, {range: xRange, tickvals: xTickVals, ticktext: xTickText, mirror: true}),
  yaxis: Object.assign({}, axisCommon, {range: yRange, tickvals: yTickVals, ticktext: yTickText, tickangle: -90}),
  showlegend: true,
  legend: {
    x: paperX(1258), y: paperY((legendBox.y0 + legendBox.y1) / 2), xanchor: 'left', yanchor: 'middle',
    orientation: 'h', itemwidth: 40,
    bgcolor: 'rgba(0,0,0,0)', borderwidth: 0,
    font: {family: 'Noto Sans', size: 19.5, color: '#e2e2e2'}
  },
  shapes: ellipseShapes.concat([legendFrame]),
  annotations: groupLabels.map((t, i) => ({
    text: t, xref: 'paper', yref: 'paper',
    x: paperX(labelPos[i].px), y: paperY(labelPos[i].py),
    xanchor: 'left', yanchor: 'middle', showarrow: false,
    font: {family: 'Liberation Serif', size: 47, color: '#ffff00'}
  }))
};

Plotly.newPlot('chart', traces, layout, {displayModeBar: false, staticPlot: true});
</script>
</body></html>
